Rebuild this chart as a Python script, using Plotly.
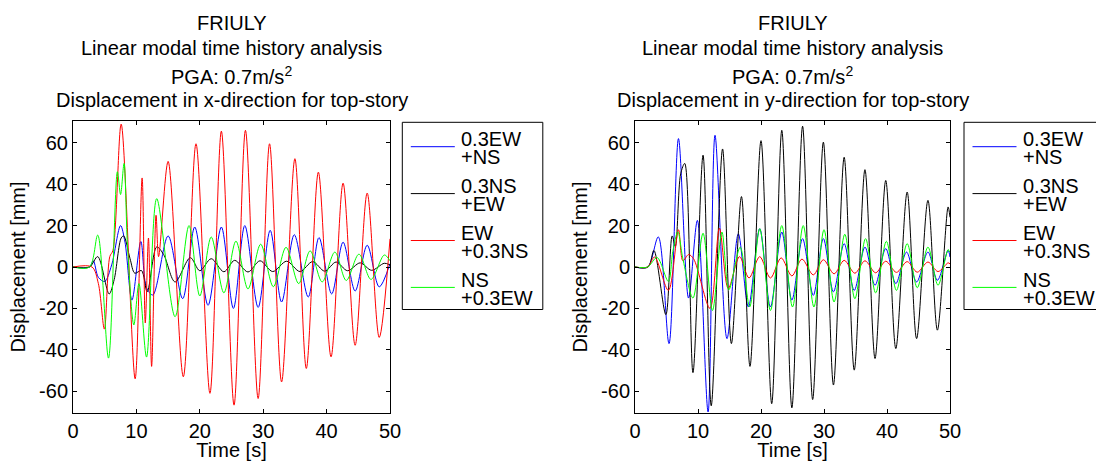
import plotly.graph_objects as go

W, H = 1096, 461

# ---------------- data: x-direction (left panel) ----------------
tx_blue = [0, 2.6, 3.2, 4.0, 5.0, 6.1, 7.5, 8.2, 9.3, 10.7, 11.6, 12.6, 15.0, 17.3, 19.2, 21.3, 23.4, 25.3,
           27.1, 29.2, 31.1, 32.9, 34.9, 37.1, 38.8, 40.8, 42.6, 44.5, 46.4, 48.3, 50]
dx_blue = [0, 0, 3, -5, -7, 1, 20, 12, -16, 12.3, -10, -13.5, 15, -15.3, 19.3, -18.5, 19.3, -20,
           20, -19.5, 17.7, -16.9, 15.6, -14.5, 14.2, -13, 12, -11.6, 10.5, -9.6, 1.6]

tx_black = [0, 2.6, 3.9, 5.7, 6.5, 7.6, 8.0, 9.0, 9.75, 10.8, 11.7, 13.2, 14.3, 16.1, 18.5, 20.0, 21.8,
            23.8, 25.5, 27.6, 29.5, 31.5, 33.7, 35.8, 37.8, 39.7, 41.5, 43.3, 45.3, 47.1, 49.1, 50]
dx_black = [0, 0, 5, -13, -6, 14, 15, 4, -3, -1.7, -12, 9.7, 6, -7.2, 4.5, -1.8, 4,
            -2.3, 3.2, -2.4, 3, -2.2, 2.8, -2.2, 2.6, -2, 2.4, -1.8, 2, -1.6, 1.8, 1]

tx_red = [0, 3.0, 4.0, 4.95, 5.8, 6.3, 7.6, 9.8, 10.9, 11.4, 11.9, 12.4, 13.1, 13.5, 15.0, 17.4, 19.4,
          21.6, 23.4, 25.4, 27.2, 29.2, 31.0, 32.9, 35.0, 36.8, 38.7, 40.7, 42.6, 44.5, 46.4, 48.3, 50]
dx_red = [0, 0, -8, -30, 5, 8, 69, -54, 43, -27, 14, -48, 25, 5, 51, -53, 59.5,
          -61, 65.6, -66.7, 66, -63.5, 59.5, -55.5, 52.3, -49, 45.8, -43.4, 40.5, -37.8, 35.7, -34, 13.6]

tx_green = [0, 2.6, 3.9, 5.6, 7.0, 7.5, 8.05, 8.6, 9.6, 10.4, 11.6, 13.2, 16.1, 18.3, 20.0, 21.8, 23.8,
            25.7, 27.6, 29.6, 31.6, 33.6, 35.6, 37.4, 39.3, 41.3, 43.1, 45.1, 47.0, 49.1, 50]
dx_green = [0, 0, 15.4, -44, 46, 35, 50, 10, -28, -8, -43.5, 33, -24, 20, -14, 14.5, -12.5,
            12.5, -10.6, 11, -9.5, 9.5, -8, 7.8, -7.2, 7.2, -6.5, 6.2, -6, 5.8, 3]

# ---------------- data: y-direction (right panel) ----------------
ty_blue = [0, 2.0, 3.7, 5.4, 6.9, 8.5, 9.9, 11.6, 12.7, 14.6, 16.4, 18.0, 19.8, 21.5, 23.3, 24.9, 26.6,
           28.3, 29.9, 31.5, 33.2, 34.8, 36.5, 38.1, 39.8, 41.4, 43.1, 44.7, 46.5, 48.0, 49.7, 50]
dy_blue = [0, 0, 14.5, -37, 62, -15, 22.5, -70, 63.6, -34.6, 16, -19.3, 18.5, -19.3, 16.9, -16, 13.7,
           -13.7, 13.7, -12, 11.3, -11.3, 9.6, -8.8, 8.9, -8, 7.2, -7.2, 7.2, -6.4, 8, 4.8]

ty_black = [0, 2.1, 3.0, 4.9, 5.9, 6.4, 7.25, 7.9, 9.2, 10.8, 12.1, 13.9, 15.3, 16.9, 18.25, 20.0, 21.7,
            23.3, 24.9, 26.6, 28.2, 29.9, 31.5, 33.2, 34.8, 36.5, 38.1, 39.8, 41.4, 43.2, 44.7, 46.5,
            48.0, 49.7, 50]
dy_black = [0, 0, 8, -23, 15, 10, 45, 50, -51, 54, -67, 57, -37, 34, -48, 61, -66,
            66, -68, 68, -64, 60.3, -57, 53, -49.8, 47, -44.2, 41.8, -39.4, 36.2, -34.6, 32.2,
            -30.5, 29, 24]

ty_red = [0, 2.0, 3.1, 5.3, 6.9, 7.6, 8.5, 9.3, 11.9, 13.4, 14.8, 16.6, 18.1, 19.8, 21.5, 23.2, 24.9,
          26.5, 28.3, 29.9, 31.6, 33.2, 34.9, 36.5, 38.2, 39.8, 41.5, 43.2, 44.8, 46.5, 48.1, 49.7, 50]
dy_red = [0, 0, 4.8, -11.3, 18, 3, 6, 4, -20, 18.7, -10.3, 5, -5.3, 5, -5.3, 4.4, -4.3,
          3.8, -3.8, 3.5, -3.3, 3.2, -3.0, 3.0, -2.8, 2.8, -2.6, 2.6, -2.5, 2.4, -2.2, 2.0, 1.5]

ty_green = [0, 2.0, 3.5, 5.3, 6.0, 6.8, 7.6, 9.2, 10.8, 12.3, 13.8, 14.9, 16.7, 18.2, 19.8, 21.5, 23.3,
            25.0, 26.7, 28.4, 30.0, 31.6, 33.3, 34.9, 36.6, 38.2, 39.9, 41.5, 43.2, 44.8, 46.5, 48.1,
            49.7, 50]
dy_green = [0, 0, 4.6, -7, 7.5, 17, 4, -15, 16.3, -21, 16.9, -11, 9.6, -19.3, 18.5, -21, 20,
            -19.3, 20, -19.3, 18, -16.9, 15.8, -15.3, 13.7, -12.5, 12.4, -11.3, 11.3, -10, 9.6, -8.8,
            8.4, 7]

series_names = ["0.3EW<br>+NS", "0.3NS<br>+EW", "EW<br>+0.3NS", "NS<br>+0.3EW"]
legend_lines = [["0.3EW", "+NS"], ["0.3NS", "+EW"], ["EW", "+0.3NS"], ["NS", "+0.3EW"]]
colors = ["#0000ff", "#000000", "#ff0000", "#00ff00"]
x_ticks = [0, 10, 20, 30, 40, 50]
y_ticks = [-60, -40, -20, 0, 20, 40, 60]
title_lines_x = ["FRIULY", "Linear modal time history analysis", "PGA: 0.7m/s<sup>2</sup>",
                 "Displacement in x-direction for top-story"]
title_lines_y = ["FRIULY", "Linear modal time history analysis", "PGA: 0.7m/s<sup>2</sup>",
                 "Displacement in y-direction for top-story"]

FONT = "Liberation Sans, Arial, Helvetica, sans-serif"

def px(x):
    return x / W

def py(y):
    return 1 - y / H

fig = go.Figure()

left_data = [(tx_blue, dx_blue), (tx_black, dx_black), (tx_red, dx_red), (tx_green, dx_green)]
right_data = [(ty_blue, dy_blue), (ty_black, dy_black), (ty_red, dy_red), (ty_green, dy_green)]

for (t, d), name, c in zip(left_data, series_names, colors):
    fig.add_trace(go.Scatter(x=t, y=d, mode="lines", name=name, showlegend=False,
                             line=dict(color=c, width=1, shape="spline", smoothing=0.9),
                             xaxis="x", yaxis="y"))
for (t, d), name, c in zip(right_data, series_names, colors):
    fig.add_trace(go.Scatter(x=t, y=d, mode="lines", name=name, showlegend=False,
                             line=dict(color=c, width=1, shape="spline", smoothing=0.9),
                             xaxis="x2", yaxis="y2"))

# plot-area geometry in pixels
L_x0, L_x1 = 73, 390
R_x0, R_x1 = 635, 950
Y_top, Y_bot = 121, 413

axis_common = dict(showline=True, linecolor="black", linewidth=1, mirror="ticks",
                   ticks="inside", ticklen=4, tickcolor="black", showgrid=False, zeroline=False,
                   automargin=False,
                   tickfont=dict(family=FONT, size=20, color="black"))

xcommon = dict(axis_common, range=[0, 50], tickvals=x_ticks,
               title=dict(text="Time [s]", font=dict(family=FONT, size=20, color="black"), standoff=2))
ycommon = dict(axis_common, range=[-70.5, 70.5], tickvals=y_ticks,
               ticktext=[str(v) for v in y_ticks],
               title=dict(text="Displacement [mm]", font=dict(family=FONT, size=20, color="black"), standoff=8))

fig.update_layout(
    width=W, height=H,
    margin=dict(l=0, r=0, t=0, b=0),
    paper_bgcolor="white", plot_bgcolor="white",
    font=dict(family=FONT, size=20, color="black"),
    hovermode=False,
    xaxis=dict(xcommon, domain=[px(L_x0), px(L_x1)], anchor="y"),
    yaxis=dict(ycommon, domain=[py(Y_bot), py(Y_top)], anchor="x"),
    xaxis2=dict(xcommon, domain=[px(R_x0), px(R_x1)], anchor="y2"),
    yaxis2=dict(ycommon, domain=[py(Y_bot), py(Y_top)], anchor="x2"),
)

# titles
title_y = [22.8, 48.3, 75, 100]
for lines, xc in [(title_lines_x, (L_x0 + L_x1) / 2), (title_lines_y, (R_x0 + R_x1) / 2)]:
    for txt, yy in zip(lines, title_y):
        fig.add_annotation(text=txt, x=px(xc), y=py(yy), xref="paper", yref="paper",
                           xanchor="center", yanchor="middle", showarrow=False,
                           font=dict(family=FONT, size=20, color="black"))

# legends (drawn manually to match compact layout)
for bx in [402.3, 964]:
    fig.add_shape(type="rect", xref="paper", yref="paper",
                  x0=px(bx), x1=px(bx + 140.5), y0=py(309.5), y1=py(122.3),
                  line=dict(color="black", width=1), fillcolor="rgba(0,0,0,0)")
    for i, (lines, c) in enumerate(zip(legend_lines, colors)):
        y1 = 139.3 + 46.9 * i
        fig.add_shape(type="line", xref="paper", yref="paper",
                      x0=px(bx + 8.5), x1=px(bx + 52.5), y0=py(y1 + 7.4), y1=py(y1 + 7.4),
                      line=dict(color=c, width=1))
        for j, txt in enumerate(lines):
            fig.add_annotation(text=txt, x=px(bx + 56.5), y=py(y1 + 17.5 * j),
                               xref="paper", yref="paper", xanchor="left", yanchor="middle",
                               showarrow=False, font=dict(family=FONT, size=20, color="black"))

fig.write_html("out.html", config={"displayModeBar": False, "staticPlot": True},
               post_script="document.body.style.margin='0px';document.body.style.overflow='hidden';")
